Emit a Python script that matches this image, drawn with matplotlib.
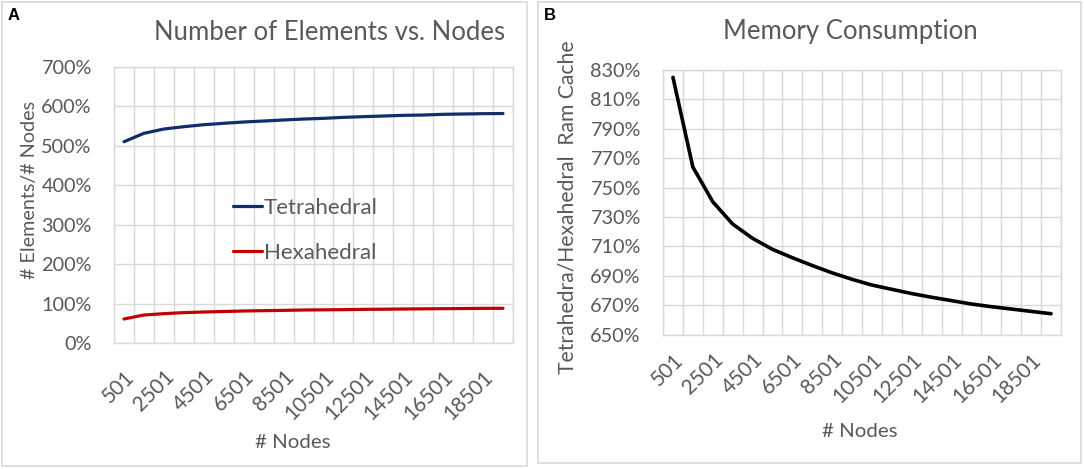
import numpy as np
import matplotlib
matplotlib.use("Agg")
import matplotlib.pyplot as plt
import matplotlib.transforms as mtransforms
from matplotlib.patches import Rectangle
from matplotlib.ticker import FuncFormatter

# ==============================
# DATI
# ==============================
nodes = [501, 1501, 2501, 3501, 4501, 5501, 6501, 7501, 8501, 9501,
         10501, 11501, 12501, 13501, 14501, 15501, 16501, 17501, 18501, 19501]

# elementi / nodi in %
tetra = [510.5, 531.8, 542.7, 548.6, 553.6, 557.2, 560.5, 563.0, 565.6, 568.0,
         569.8, 572.3, 574.0, 575.7, 577.4, 578.2, 580.0, 580.8, 581.6, 582.0]
hexa = [60.9, 71.0, 74.4, 77.0, 78.6, 79.9, 81.2, 82.0, 82.8, 83.7,
        84.1, 84.5, 85.3, 85.7, 86.2, 86.6, 87.0, 87.4, 87.9, 88.0]

# tetra/hexa ram cache in %
memory = [825.0, 764.0, 740.4, 725.2, 715.5, 708.0, 702.3, 697.0, 692.0, 687.6,
          683.7, 680.8, 677.9, 675.4, 673.1, 670.8, 669.0, 667.4, 665.8, 664.2]

yticks_a = [0, 100, 200, 300, 400, 500, 600, 700]
yticks_b = [650, 670, 690, 710, 730, 750, 770, 790, 810, 830]

# ==============================
# STILE
# ==============================
plt.rcParams['font.family'] = ['Lato', 'DejaVu Sans']
TXT = '#595959'
GRID = '#D9D9D9'
FS_Y = 14.3     # tick asse y
FS_X = 15.0     # tick asse x
FS_LAB = 14.7   # titoli assi x
FS_T = 18.5     # titoli

W, H = 1084, 469
fig = plt.figure(figsize=(W / 100, H / 100), dpi=100)


def px_axes(l, t, r, b):
    return fig.add_axes([l / W, 1 - b / H, (r - l) / W, (b - t) / H])


def style_axis(ax, yticks, xpad):
    n = len(nodes)
    x = np.arange(n)
    ax.set_xlim(-0.5, n - 0.5)
    ax.set_ylim(yticks[0], yticks[-1])
    ax.set_yticks(yticks)
    ax.yaxis.set_major_formatter(FuncFormatter(lambda v, p: f"{v:.0f}%"))
    ax.set_xticks(x[::2])
    ax.set_xticklabels([str(v) for v in nodes[::2]], rotation=45,
                       ha='right', va='top', rotation_mode='anchor')
    shift = mtransforms.ScaledTranslation(3 / 100, 0, fig.dpi_scale_trans)
    for lab in ax.get_xticklabels():
        lab.set_transform(lab.get_transform() + shift)
    ax.set_xticks(np.arange(n + 1) - 0.5, minor=True)
    ax.grid(True, which='minor', axis='x', color=GRID, lw=1.0)
    ax.grid(True, which='major', axis='y', color=GRID, lw=1.0)
    ax.tick_params(which='both', length=0, colors=TXT)
    ax.tick_params(axis='y', pad=16, labelsize=FS_Y)
    ax.tick_params(axis='x', pad=xpad, labelsize=FS_X)
    for s in ax.spines.values():
        s.set_color(GRID)
        s.set_linewidth(1.0)
    ax.set_axisbelow(True)
    return x


# bordi dei pannelli
for (l, t, r, b) in [(2, 2, 527, 466), (538, 2, 1081, 463)]:
    fig.patches.append(Rectangle((l / W, 1 - b / H), (r - l) / W, (b - t) / H,
                                 transform=fig.transFigure, fill=False,
                                 edgecolor=GRID, lw=1.2))

# ==============================
# PANNELLO A
# ==============================
axA = px_axes(114, 67, 513, 343)
x = style_axis(axA, yticks_a, 17)
axA.plot(x, tetra, color='#112E6B', lw=2.3, label='Tetrahedral', solid_capstyle='round')
axA.plot(x, hexa, color='#C00000', lw=2.3, label='Hexahedral', solid_capstyle='round')
axA.set_ylabel('# Elements/# Nodes', fontsize=14.2, color=TXT)
axA.yaxis.set_label_coords(-0.19, 0.554)
axA.set_xlabel('# Nodes', fontsize=FS_LAB, color=TXT)
axA.xaxis.set_label_coords(0.449, -0.33)
axA.legend(loc='upper left', bbox_to_anchor=(0.298, 0.525), frameon=False,
           fontsize=16.0, labelcolor=TXT, handlelength=1.3, handletextpad=0.1,
           labelspacing=1.12, borderpad=0, borderaxespad=0)
fig.text(330 / W, 1 - 33 / H, 'Number of Elements vs. Nodes', ha='center',
         va='center', fontsize=FS_T, color=TXT)
fig.text(8 / W, 1 - 16 / H, 'A', ha='left', va='center', fontsize=12,
         fontweight='bold', family='Liberation Sans')

# ==============================
# PANNELLO B
# ==============================
axB = px_axes(663, 70, 1061, 334.6)
x = style_axis(axB, yticks_b, 11)
axB.plot(x, memory, color='black', lw=2.6, solid_capstyle='round')
axB.set_ylabel('Tetrahedra/Hexahedral  Ram Cache', fontsize=15.2, color=TXT)
axB.yaxis.set_label_coords(-0.2136, 0.48)
axB.set_xlabel('# Nodes', fontsize=FS_LAB, color=TXT)
axB.xaxis.set_label_coords(0.495, -0.335)
fig.text(850 / W, 1 - 32 / H, 'Memory Consumption', ha='center',
         va='center', fontsize=FS_T, color=TXT)
fig.text(544 / W, 1 - 16 / H, 'B', ha='left', va='center', fontsize=12,
         fontweight='bold', family='Liberation Sans')

fig.savefig('out.png', dpi=100)
